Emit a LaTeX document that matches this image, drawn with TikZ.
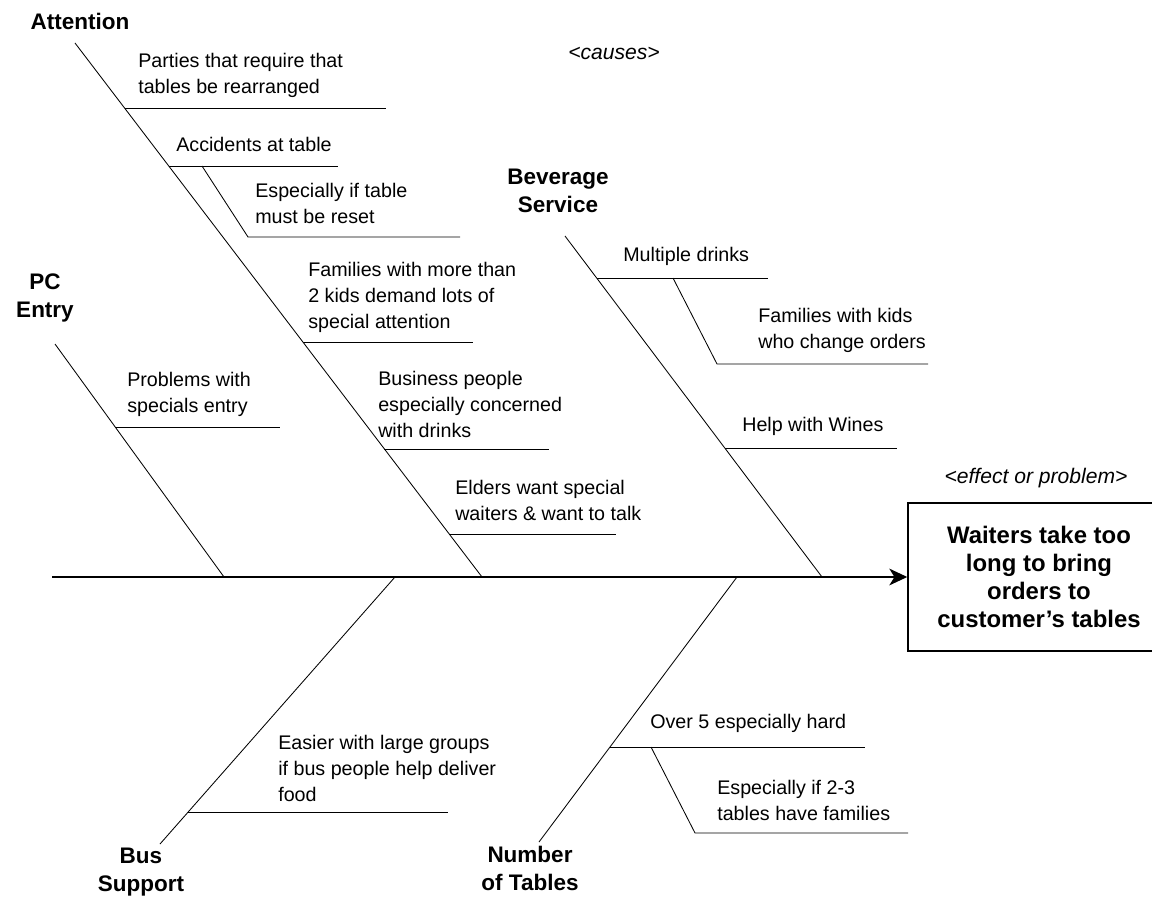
\documentclass[tikz,border=0pt]{standalone}
\usepackage{fontspec}
\setmainfont{Liberation Sans}
\usetikzlibrary{arrows.meta,positioning}

\begin{document}
\begin{tikzpicture}[
x=0.025cm,
y=-0.025cm,
bone/.style={
draw=black,
line width=0.6pt
},
spine/.style={
draw=black,
line width=1pt,
-{Stealth[length=4.5mm,width=4.2mm,inset=1.3mm]}
},
cause/.style={
font=\bfseries\fontsize{16}{19.9}\selectfont,
align=center,
inner sep=0pt
},
item/.style={
font=\fontsize{14}{18.5}\selectfont,
align=left,
anchor=west,
inner sep=0pt
},
tag/.style={
font=\itshape\fontsize{15}{18}\selectfont,
inner sep=0pt
},
effect/.style={
draw=black,
line width=1pt,
minimum width=6.55cm,
minimum height=3.7cm,
font=\bfseries\fontsize{17}{19.9}\selectfont,
align=center,
inner sep=0pt
}
]

\useasboundingbox (0,0) rectangle (1152,900);

% head and spine
\coordinate (tail) at (52,577);
\node[effect] (prob) at (1039,577) {Waiters take too\\long to bring\\orders to\\customer’s tables};
\draw[spine] (tail) -- (prob.west);

\node[tag] (causes) at (614,53) {<causes>};
\node[tag] (effectTag) at (1036,478) {<effect or problem>};

% Attention
\node[cause] (att) at (80,21) {Attention};
\coordinate (attTop) at (75,43);
\coordinate (attEnd) at (482,577);
\draw[bone] (attTop) -- (attEnd);

\coordinate (att1a) at (125,108);
\coordinate (att1b) at (386,108);
\draw[bone] (att1a) -- (att1b);
\node[item] (parties) at (138,75) {Parties that require that\\tables be rearranged};

\coordinate (att2a) at (169,166);
\coordinate (att2b) at (338,166);
\draw[bone] (att2a) -- (att2b);
\node[item] (accid) at (176,144) {Accidents at table};

\coordinate (att2c) at (202,166);
\coordinate (att2d) at (248,237);
\coordinate (att2e) at (460,237);
\draw[bone] (att2c) -- (att2d) -- (att2e);
\node[item] (reset) at (255,203) {Especially if table\\must be reset};

\coordinate (att3a) at (303,342);
\coordinate (att3b) at (473,342);
\draw[bone] (att3a) -- (att3b);
\node[item] (kids) at (308,297) {Families with more than\\2 kids demand lots of\\special attention};

\coordinate (att4a) at (384,449);
\coordinate (att4b) at (549,449);
\draw[bone] (att4a) -- (att4b);
\node[item] (business) at (378,404) {Business people\\especially concerned\\with drinks};

\coordinate (att5a) at (449,534);
\coordinate (att5b) at (616,534);
\draw[bone] (att5a) -- (att5b);
\node[item] (elders) at (455,500) {Elders want special\\waiters \& want to talk};

% PC Entry
\node[cause] (pc) at (45,298) {PC\\Entry};
\coordinate (pcTop) at (55,344);
\coordinate (pcEnd) at (224,577);
\draw[bone] (pcTop) -- (pcEnd);

\coordinate (pc1a) at (115,427);
\coordinate (pc1b) at (280,427);
\draw[bone] (pc1a) -- (pc1b);
\node[item] (specials) at (127,394) {Problems with\\specials entry};

% Beverage Service
\node[cause] (bev) at (558,191) {Beverage\\Service};
\coordinate (bevTop) at (565,236);
\coordinate (bevEnd) at (822,577);
\draw[bone] (bevTop) -- (bevEnd);

\coordinate (bev1a) at (597,278);
\coordinate (bev1b) at (768,278);
\draw[bone] (bev1a) -- (bev1b);
\node[item] (drinks) at (623,256) {Multiple drinks};

\coordinate (bev1c) at (673,278);
\coordinate (bev1d) at (717,364);
\coordinate (bev1e) at (928,364);
\draw[bone] (bev1c) -- (bev1d) -- (bev1e);
\node[item] (orders) at (758,330) {Families with kids\\who change orders};

\coordinate (bev2a) at (725,448);
\coordinate (bev2b) at (897,448);
\draw[bone] (bev2a) -- (bev2b);
\node[item] (wines) at (742,426) {Help with Wines};

% Bus Support
\node[cause] (bus) at (141,872) {Bus\\Support};
\coordinate (busEnd) at (395,577);
\coordinate (busTop) at (160,844);
\draw[bone] (busEnd) -- (busTop);

\coordinate (bus1a) at (188,812);
\coordinate (bus1b) at (448,812);
\draw[bone] (bus1a) -- (bus1b);
\node[item] (groups) at (278,768) {Easier with large groups\\if bus people help deliver\\food};

% Number of Tables
\node[cause] (tables) at (530,868) {Number\\of Tables};
\coordinate (tabEnd) at (737,577);
\coordinate (tabTop) at (539,842);
\draw[bone] (tabEnd) -- (tabTop);

\coordinate (tab1a) at (610,747);
\coordinate (tab1b) at (865,747);
\draw[bone] (tab1a) -- (tab1b);
\node[item] (hard) at (650,723) {Over 5 especially hard};

\coordinate (tab1c) at (651,747);
\coordinate (tab1d) at (695,833);
\coordinate (tab1e) at (908,833);
\draw[bone] (tab1c) -- (tab1d) -- (tab1e);
\node[item] (families) at (717,800) {Especially if 2-3\\tables have families};

\end{tikzpicture}
\end{document}
